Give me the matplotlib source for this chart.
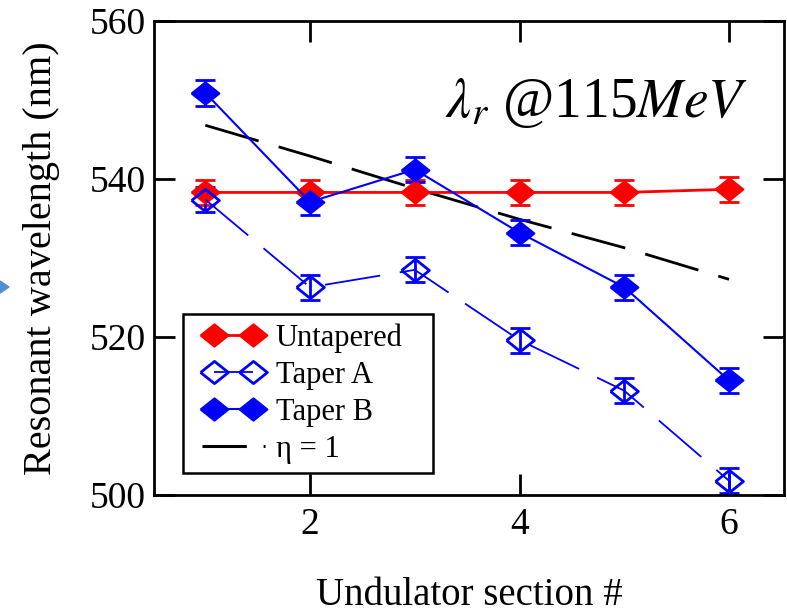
import numpy as np
import matplotlib
matplotlib.use("Agg")
import matplotlib.pyplot as plt
from matplotlib.lines import Line2D
from matplotlib.patches import Polygon
from matplotlib.legend_handler import HandlerLine2D

plt.rcParams['font.family'] = ['Liberation Serif', 'DejaVu Serif']
plt.rcParams['mathtext.fontset'] = 'stix'

# undulator sections and resonant wavelengths (nm)
sections = [1, 2, 3, 4, 5, 6]
untapered = [538.3, 538.3, 538.3, 538.3, 538.3, 538.7]
taper_a = [537.4, 526.3, 528.5, 519.6, 513.2, 501.8]
taper_b = [550.9, 537.1, 541.2, 533.2, 526.3, 514.5]
eta_one = [546.8, 542.9, 538.8, 534.9, 531.3, 527.3]
err = 1.6

# slightly wide diamond
diamond = [(-1.25, 0), (0, 1), (1.25, 0), (0, -1), (-1.25, 0)]

fig = plt.figure(figsize=(7.87, 6.13), dpi=100)
ax = fig.add_axes([154 / 787, 1 - 495 / 613, 630 / 787, 474 / 613])

ax.plot(sections, eta_one, color='black', lw=2, dashes=(20, 7.5), zorder=1)

eb = dict(fmt='none', elinewidth=2, capsize=7, capthick=2, zorder=2)
ax.errorbar(sections, untapered, yerr=err, ecolor='red', **eb)
ax.errorbar(sections, taper_a, yerr=err, ecolor='blue', **eb)
ax.errorbar(sections, taper_b, yerr=err, ecolor='blue', **eb)

l_un, = ax.plot(sections, untapered, color='red', lw=2, marker=diamond, ms=20,
                mfc='red', mec='red', mew=1.5, zorder=3, label='Untapered')
l_a, = ax.plot(sections, taper_a, color='blue', lw=1.3, dashes=(31, 11),
               marker=diamond, ms=20, mfc='none', mec='blue', mew=2,
               zorder=3, label='Taper A')
l_b, = ax.plot(sections, taper_b, color='blue', lw=1.5, marker=diamond, ms=20,
               mfc='blue', mec='blue', mew=1.5, zorder=3, label='Taper B')
eta_handle = Line2D([], [], color='black', lw=2.2, dashes=(14.5, 5.5, 1.4, 5),
                    label='η = 1')

ax.set_xlim(0.51, 6.525)
ax.set_ylim(500, 560)
ax.set_xticks([2, 4, 6])
ax.set_yticks([500, 520, 540, 560])
ax.tick_params(direction='in', length=15, width=2, labelsize=27,
               top=True, right=True, pad=9)
ax.tick_params(axis='y', pad=6)
for sp in ax.spines.values():
    sp.set_linewidth(2)

ax.set_xlabel('Undulator section #', fontsize=28, labelpad=25)
ax.set_ylabel('Resonant wavelength (nm)', fontsize=29, labelpad=21)

ax.text(445 / 787, 1 - 117 / 613, r'$\lambda_r$ @115$\mathit{MeV}$',
        fontsize=40, transform=fig.transFigure)

leg = ax.legend(handles=[l_un, l_a, l_b, eta_handle], loc='lower left',
                bbox_to_anchor=(29 / 630, 22 / 474, 250 / 630, 160 / 474),
                mode='expand', borderaxespad=0, fontsize=22,
                numpoints=2, handlelength=2.38, handletextpad=0.35,
                labelspacing=0.26, borderpad=0.3, fancybox=False,
                edgecolor='black', framealpha=1,
                handler_map={Line2D: HandlerLine2D(marker_pad=0.38, xpad=0.33),
                             eta_handle: HandlerLine2D(marker_pad=0, xpad=0.33)})
leg.get_frame().set_linewidth(1.8)

# small arrow head at the left border
tri = Polygon([(0, 1 - 281 / 613), (9 / 787, 1 - 287 / 613), (0, 1 - 293 / 613)],
              closed=True, transform=fig.transFigure, color='#4f8fd0')
fig.patches.append(tri)

fig.savefig('out.png', dpi=100)
